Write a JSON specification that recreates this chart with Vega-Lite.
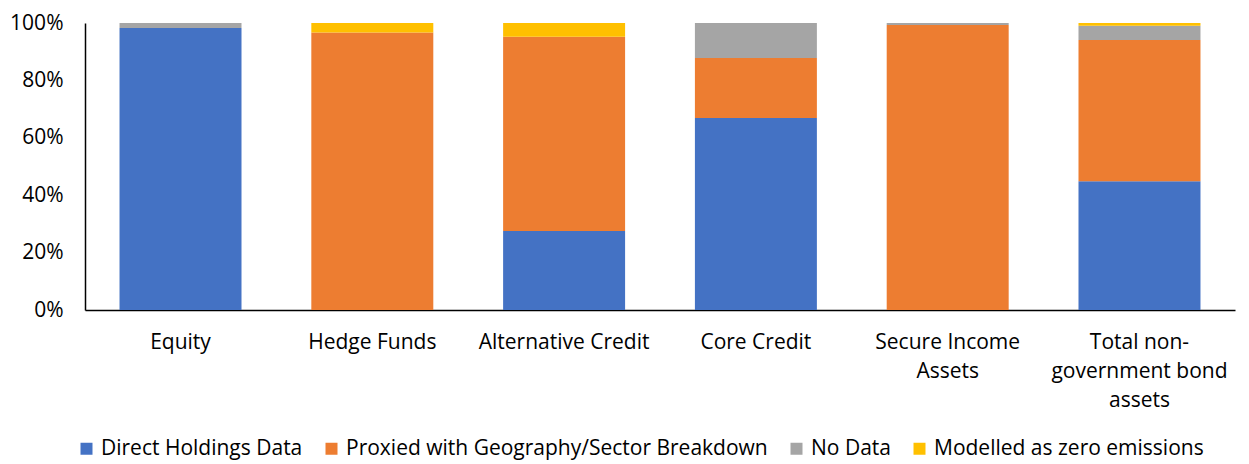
{
  "$schema": "https://vega.github.io/schema/vega-lite/v6.json",
  "width": 1150,
  "height": 287,
  "autosize": {"type": "none"},
  "padding": {"left": 85, "top": 23, "right": 14, "bottom": 154},
  "background": "white",
  "config": {"view": {"stroke": null}, "font": "Open Sans"},
  "data": {
    "values": [
      {"asset": "Equity", "category": "Direct Holdings Data", "series": 1, "share": 0.983},
      {"asset": "Equity", "category": "Proxied with Geography/Sector Breakdown", "series": 2, "share": 0.0},
      {"asset": "Equity", "category": "No Data", "series": 3, "share": 0.017},
      {"asset": "Equity", "category": "Modelled as zero emissions", "series": 4, "share": 0.0},
      {"asset": "Hedge Funds", "category": "Direct Holdings Data", "series": 1, "share": 0.0},
      {"asset": "Hedge Funds", "category": "Proxied with Geography/Sector Breakdown", "series": 2, "share": 0.967},
      {"asset": "Hedge Funds", "category": "No Data", "series": 3, "share": 0.0},
      {"asset": "Hedge Funds", "category": "Modelled as zero emissions", "series": 4, "share": 0.033},
      {"asset": "Alternative Credit", "category": "Direct Holdings Data", "series": 1, "share": 0.275},
      {"asset": "Alternative Credit", "category": "Proxied with Geography/Sector Breakdown", "series": 2, "share": 0.677},
      {"asset": "Alternative Credit", "category": "No Data", "series": 3, "share": 0.0},
      {"asset": "Alternative Credit", "category": "Modelled as zero emissions", "series": 4, "share": 0.048},
      {"asset": "Core Credit", "category": "Direct Holdings Data", "series": 1, "share": 0.669},
      {"asset": "Core Credit", "category": "Proxied with Geography/Sector Breakdown", "series": 2, "share": 0.209},
      {"asset": "Core Credit", "category": "No Data", "series": 3, "share": 0.122},
      {"asset": "Core Credit", "category": "Modelled as zero emissions", "series": 4, "share": 0.0},
      {"asset": "Secure Income Assets", "category": "Direct Holdings Data", "series": 1, "share": 0.0},
      {"asset": "Secure Income Assets", "category": "Proxied with Geography/Sector Breakdown", "series": 2, "share": 0.993},
      {"asset": "Secure Income Assets", "category": "No Data", "series": 3, "share": 0.007},
      {"asset": "Secure Income Assets", "category": "Modelled as zero emissions", "series": 4, "share": 0.0},
      {"asset": "Total non-government bond assets", "category": "Direct Holdings Data", "series": 1, "share": 0.449},
      {"asset": "Total non-government bond assets", "category": "Proxied with Geography/Sector Breakdown", "series": 2, "share": 0.492},
      {"asset": "Total non-government bond assets", "category": "No Data", "series": 3, "share": 0.049},
      {"asset": "Total non-government bond assets", "category": "Modelled as zero emissions", "series": 4, "share": 0.010}
    ]
  },
  "mark": {"type": "bar"},
  "encoding": {
    "x": {
      "field": "asset",
      "type": "nominal",
      "sort": null,
      "scale": {"paddingInner": 0.364, "paddingOuter": 0.18},
      "axis": {
        "title": null,
        "labelAngle": 0,
        "ticks": false,
        "domainColor": "#000000",
        "domainWidth": 1.5,
        "labelColor": "#000000",
        "labelFontSize": 21,
        "labelPadding": 32,
        "labelLineHeight": 29,
        "labelBaseline": "middle",
        "labelExpr": "datum.value == 'Secure Income Assets' ? ['Secure Income', 'Assets'] : datum.value == 'Total non-government bond assets' ? ['Total non-', 'government bond', 'assets'] : datum.value"
      }
    },
    "y": {
      "field": "share",
      "type": "quantitative",
      "stack": "zero",
      "scale": {"domain": [0, 1]},
      "axis": {
        "title": null,
        "values": [0, 0.2, 0.4, 0.6, 0.8, 1],
        "format": ".0%",
        "grid": false,
        "ticks": false,
        "domainColor": "#000000",
        "domainWidth": 1.5,
        "labelColor": "#000000",
        "labelFontSize": 21,
        "labelPadding": 22
      }
    },
    "color": {
      "field": "category",
      "type": "nominal",
      "scale": {
        "domain": ["Direct Holdings Data", "Proxied with Geography/Sector Breakdown", "No Data", "Modelled as zero emissions"],
        "range": ["#4472C4", "#ED7D31", "#A5A5A5", "#FFC000"]
      },
      "legend": {
        "title": null,
        "orient": "none",
        "direction": "horizontal",
        "legendX": -9,
        "legendY": 415,
        "symbolType": "square",
        "symbolSize": 144,
        "symbolStrokeWidth": 0,
        "symbolOpacity": 1,
        "labelFontSize": 21,
        "labelLimit": 0,
        "labelColor": "#000000",
        "columnPadding": 18,
        "labelOffset": 4
      }
    },
    "order": {"field": "series", "type": "quantitative", "sort": "ascending"}
  }
}
